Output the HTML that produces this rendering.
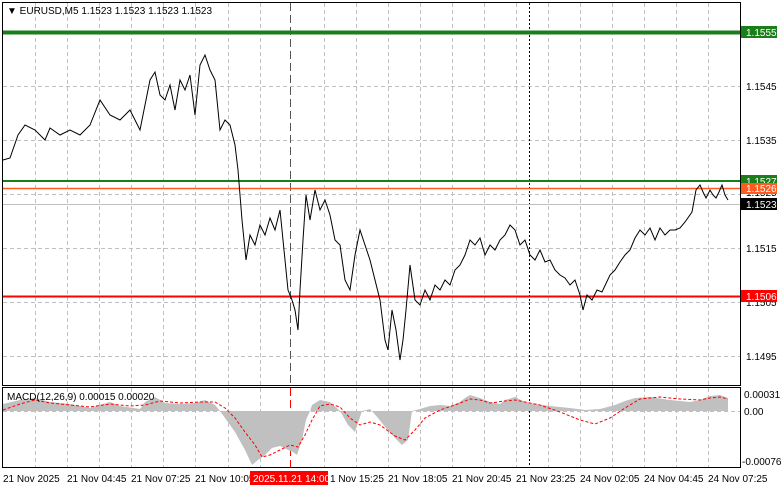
<!DOCTYPE html>
<html><head><meta charset="utf-8"><style>
body{margin:0;background:#fff;width:781px;height:489px;overflow:hidden;font-family:"Liberation Sans",sans-serif}
svg{position:absolute;left:0;top:0}
text{font-family:"Liberation Sans",sans-serif;font-size:10px}
</style></head><body>
<svg width="781" height="489" viewBox="0 0 781 489">
<rect width="781" height="489" fill="#fff"/>
<g stroke="#c0c0c0" stroke-dasharray="4,3" stroke-width="1">
<line x1="3" x2="740" y1="86.5" y2="86.5"/><line x1="3" x2="740" y1="140.5" y2="140.5"/>
<line x1="3" x2="740" y1="194.5" y2="194.5"/><line x1="3" x2="740" y1="248.5" y2="248.5"/>
<line x1="3" x2="740" y1="302.5" y2="302.5"/><line x1="3" x2="740" y1="356.5" y2="356.5"/>
<line x1="3" x2="740" y1="411.5" y2="411.5"/>
</g>
<g stroke="#c0c0c0" stroke-dasharray="4,3">
<path d="M35.5 3V468M67.5 3V468M99.5 3V468M131.5 3V468M163.5 3V468M195.5 3V468M228.5 3V468M260.5 3V468M324.5 3V468M356.5 3V468M388.5 3V468M420.5 3V468M452.5 3V468M484.5 3V468M516.5 3V468M548.5 3V468M580.5 3V468M612.5 3V468M644.5 3V468M676.5 3V468M708.5 3V468"/>
</g>
<line x1="529.5" x2="529.5" y1="3" y2="468" stroke="#000" stroke-dasharray="2,2"/>
<line x1="290.5" x2="290.5" y1="3" y2="385" stroke="#555" stroke-dasharray="8,4"/>
<line x1="290.5" x2="290.5" y1="388" y2="468" stroke="#f00" stroke-dasharray="8,4"/>
<!-- levels -->
<line x1="3" x2="740" y1="32.5" y2="32.5" stroke="#1a7f1a" stroke-width="4"/>
<line x1="3" x2="740" y1="181" y2="181" stroke="#1a7f1a" stroke-width="2"/>
<line x1="3" x2="740" y1="188.5" y2="188.5" stroke="#ff5a1f" stroke-width="1.5"/>
<line x1="3" x2="740" y1="204.5" y2="204.5" stroke="#c0c0c0"/>
<line x1="3" x2="740" y1="296.5" y2="296.5" stroke="#f00" stroke-width="2"/>
<polyline fill="none" stroke="#000" stroke-width="1" points="3,160 10,158 18,135 25,125 35,130 45,140 50,128 60,135 70,130 80,135 90,125 100,100 110,115 120,120 130,110 140,130 150,80 155,72 160,95 165,100 170,85 175,110 180,80 185,90 190,75 195,115 200,65 205,55 210,70 215,80 220,130 225,120 230,125 235,145 238,170 242,220 246,260 250,235 255,245 260,225 265,235 270,218 275,230 280,210 285,260 288,290 292,300 295,310 298,330 300,290 303,240 306,195 310,220 315,190 320,210 325,200 330,215 335,240 340,245 345,280 350,290 355,255 360,230 365,245 370,260 375,280 380,300 385,340 388,350 392,310 396,330 400,360 403,340 406,310 410,265 415,300 420,305 425,290 430,300 435,285 440,290 445,280 450,285 455,270 460,265 465,255 470,240 475,245 480,238 485,255 490,245 495,250 500,240 505,235 510,225 515,230 520,245 525,240 530,255 535,260 540,250 545,262 550,260 555,270 560,275 565,278 570,285 575,280 580,295 583,310 587,295 592,300 597,290 602,292 610,275 615,270 620,262 625,255 630,250 635,238 640,230 645,235 650,228 655,240 660,228 665,235 670,230 675,230 680,228 685,222 692,212 696,190 700,185 703,192 706,198 710,190 713,195 716,198 719,192 722,185 725,195 728,200"/>
<!-- panels -->
<rect x="2.5" y="2.5" width="738" height="383" fill="none" stroke="#000"/>
<rect x="2.5" y="387.5" width="738" height="80" fill="none" stroke="#000"/>
<!-- MACD histogram -->
<path fill="#c0c0c0" d="M3,411 L3,404 20,400 35,398 50,402 70,404 90,408 100,405 110,402 120,406 140,409 145,402 155,397 165,403 180,404 195,403 205,400 215,405 220,411 225,418 235,432 245,450 252,465 258,460 265,455 272,448 280,446 288,450 293,452 297,455 302,440 306,420 310,411 312,405 320,400 330,402 340,411 348,425 355,432 362,411 370,409 378,418 386,428 395,438 402,445 408,440 412,411 420,409 430,406 440,405 450,406 460,402 465,398 470,395 480,398 490,402 500,404 505,400 515,397 525,402 535,404 550,406 570,408 585,410 600,409 615,405 625,401 635,398 650,397 670,400 690,402 700,400 710,396 720,395 728,398 728,411Z"/>
<polyline fill="none" stroke="#f00" stroke-dasharray="3,2" points="3,410 20,404 35,400 50,403 70,405 90,407 110,404 130,406 145,405 160,401 180,403 200,402 215,402 225,408 235,418 245,432 255,445 262,457 270,455 280,450 290,445 298,447 305,435 312,420 320,406 330,404 340,407 350,418 360,425 370,422 380,425 395,436 405,440 415,430 425,418 440,410 455,405 470,399 480,400 490,403 505,401 515,400 525,402 540,405 560,412 580,420 595,424 610,418 625,408 640,399 660,397 680,399 700,400 710,398 720,397 728,399"/>
<!-- texts -->
<text x="7" y="14" font-size="9">▼ EURUSD,M5  1.1523 1.1523 1.1523 1.1523</text>
<text x="7" y="400">MACD(12,26,9) 0.00015 0.00020</text>
<g fill="#000">
<text x="746" y="90">1.1545</text><text x="746" y="144">1.1535</text>
<text x="746" y="252">1.1515</text><text x="746" y="306">1.1505</text><text x="746" y="360">1.1495</text>
<text x="746" y="196">1.1525</text>
<text x="744" y="398">0.00031</text><text x="744" y="415">0.00</text><text x="742" y="465">-0.00076</text>
</g>
<rect x="741" y="26" width="36" height="12" fill="#1a7f1a"/><text x="746" y="36" fill="#fff">1.1555</text>
<rect x="741" y="175" width="36" height="12" fill="#1a7f1a"/><text x="746" y="185" fill="#fff">1.1527</text>
<rect x="741" y="183" width="36" height="11" fill="#ff5a1f"/><text x="746" y="192" fill="#fff">1.1526</text>
<rect x="741" y="198" width="36" height="12" fill="#000"/><text x="746" y="208" fill="#fff">1.1523</text>
<rect x="741" y="290" width="36" height="12" fill="#f00"/><text x="746" y="300" fill="#fff">1.1506</text>
<g fill="#000">
<text x="3" y="482">21 Nov 2025</text><text x="67" y="482">21 Nov 04:45</text>
<text x="131" y="482">21 Nov 07:25</text><text x="195" y="482">21 Nov 10:05</text>
<text x="330" y="482">1 Nov 15:25</text><text x="388" y="482">21 Nov 18:05</text>
<text x="452" y="482">21 Nov 20:45</text><text x="516" y="482">21 Nov 23:25</text>
<text x="580" y="482">24 Nov 02:05</text><text x="644" y="482">24 Nov 04:45</text>
<text x="708" y="482">24 Nov 07:25</text>
</g>
<rect x="250" y="471" width="78" height="14" fill="#f00"/><text x="253" y="482" fill="#fff">2025.11.21 14:00</text>
</svg>
</body></html>
